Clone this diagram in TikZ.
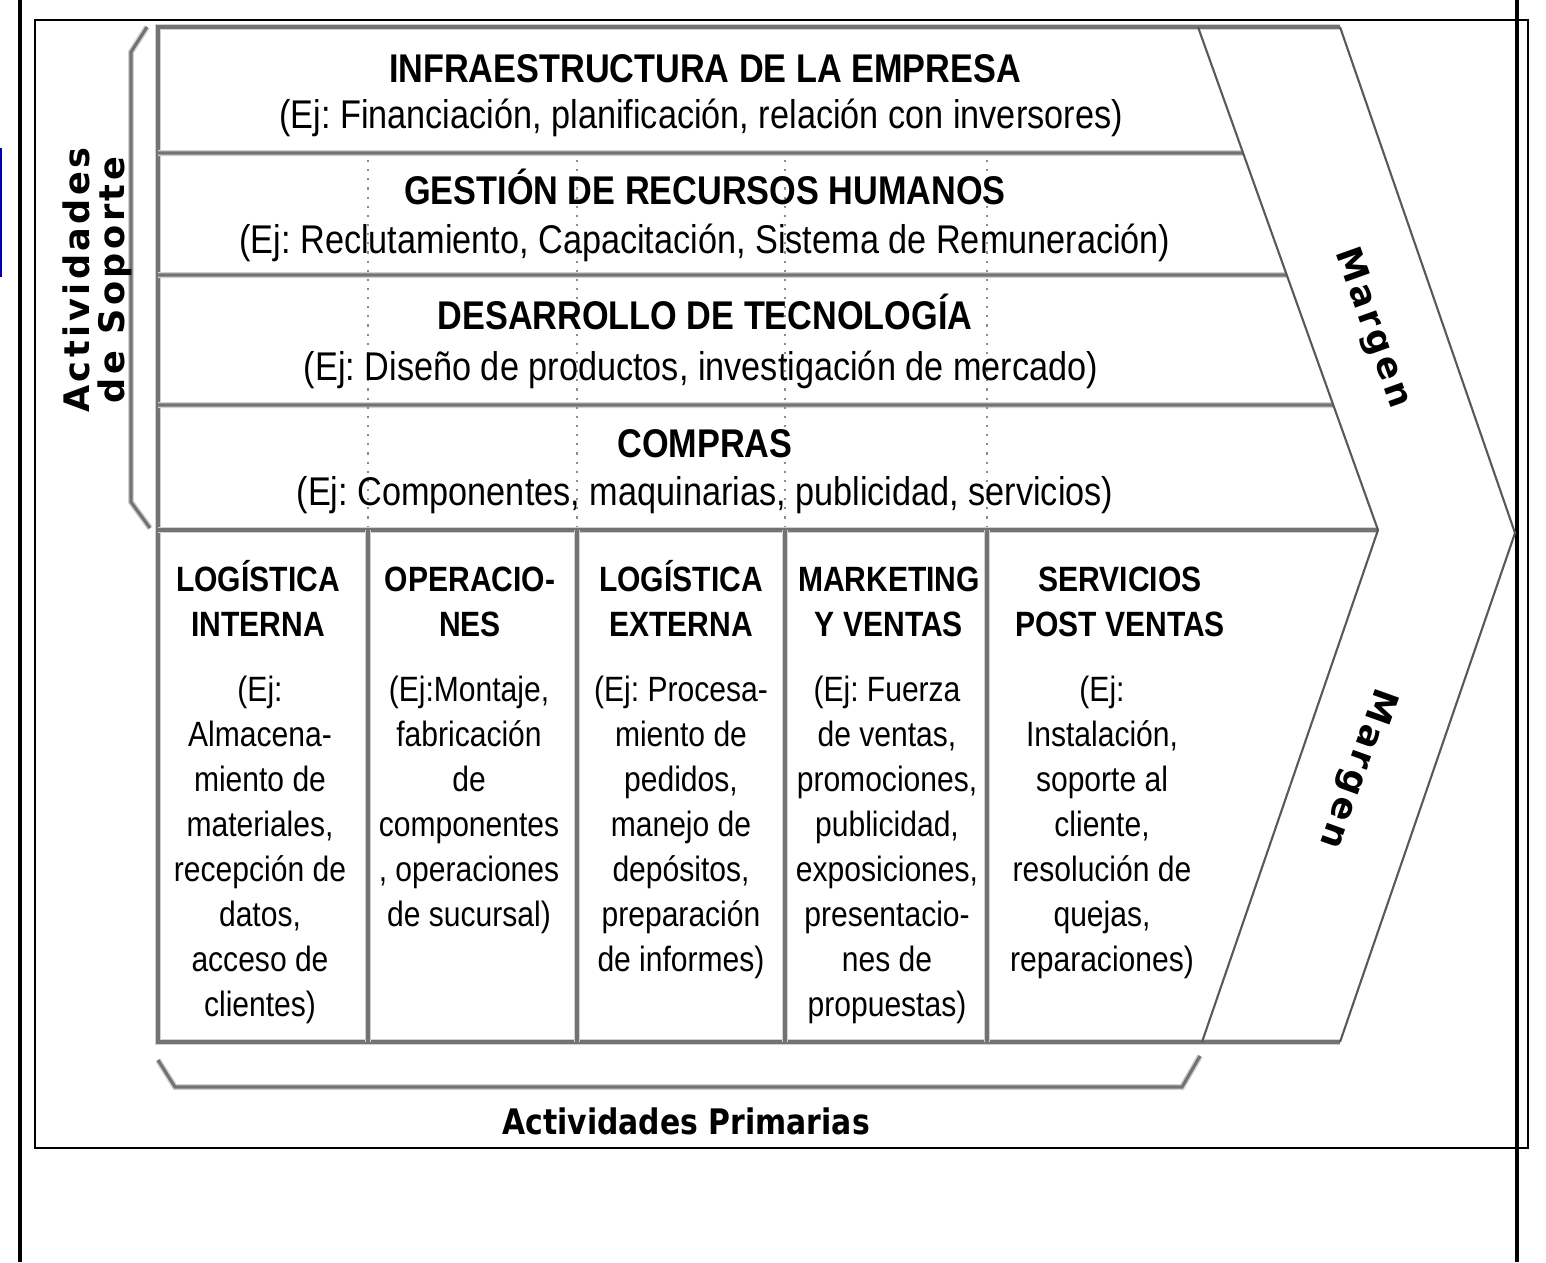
\documentclass[tikz,border=0pt]{standalone}
\usepackage{fontspec}
\setmainfont{Liberation Sans}[FakeStretch=0.855]
\newfontfamily\labelfont{DejaVu Sans}[LetterSpace=10]
\newfontfamily\basefont{DejaVu Sans}[FakeStretch=0.85]
\usetikzlibrary{calc}
\frenchspacing
\newcommand{\hstrut}{\rule{0pt}{10pt}}

\begin{document}
\begin{tikzpicture}[x=0.1mm,y=-0.1mm]
\tikzstyle{rule} = [draw=black!55, line width=0.9pt, preaction={draw=black!18, line width=1.7pt}]
\tikzstyle{slant} = [draw=black!65, line width=0.6pt]
\tikzstyle{guide} = [draw=black!45, dotted, line width=0.6pt]
\tikzstyle{title} = [font=\bfseries\fontsize{11.4}{13}\selectfont, anchor=base, inner sep=0pt]
\tikzstyle{ej} = [font=\fontsize{11.4}{13}\selectfont, anchor=base, inner sep=0pt]
\tikzstyle{head} = [font=\bfseries\fontsize{10}{12.6}\selectfont, align=center, anchor=north, inner sep=0pt]
\tikzstyle{body} = [font=\fontsize{10}{12.8}\selectfont, align=center, anchor=north, inner sep=0pt]
\tikzstyle{side} = [font=\labelfont\bfseries\fontsize{10}{10}\selectfont, align=center, inner sep=0pt]
\useasboundingbox (0,0) rectangle (1546,1262);
% page frame
\draw[line width=1.2pt] (20,0) -- (20,1262);
\draw[line width=1.2pt] (1517,0) -- (1517,1262);
\draw[line width=0.6pt] (35,20) rectangle (1528,1148);
\draw[draw=blue!70!black, line width=0.8pt] (1,148) -- (1,277);
% chevron
\coordinate (tl) at (158,27);
\coordinate (ti) at (1198,27);
\coordinate (to) at (1340,27);
\coordinate (tip) at (1378,530);
\coordinate (otip) at (1515,533);
\coordinate (bi) at (1202,1042);
\coordinate (bo) at (1340,1042);
\coordinate (bl) at (158,1042);
\draw[rule] (to) -- (tl) -- (bl) -- (bo);
\draw[rule] (158,530) -- (tip);
\foreach \y in {153,275,405}
  \draw[rule] (158,\y) -- ($(ti)!{(\y-27)/503}!(tip)$);
\foreach \x in {368,577,785,987} {
  \draw[guide] (\x,160) -- (\x,527);
  \draw[rule] (\x,530) -- (\x,1042);
}
\draw[slant] (ti) -- (tip) -- (bi);
\draw[slant] (to) -- (otip) -- (bo);
% brackets
\draw[rule] (147,27) -- (131,52) -- (131,502) -- (150,528);
\draw[rule] (158,1060) -- (175,1087) -- (1182,1087) -- (1200,1056);
% support activities
\node[title] (infra) at (705,82) {INFRAESTRUCTURA DE LA EMPRESA};
\node[ej] (infraEj) at (701,128) {(Ej: Financiación, planificación, relación con inversores)};
\node[title] (rrhh) at (705,204) {GESTIÓN DE RECURSOS HUMANOS};
\node[ej] (rrhhEj) at (705,253) {(Ej: Reclutamiento, Capacitación, Sistema de Remuneración)};
\node[title] (tec) at (705,329) {DESARROLLO DE TECNOLOGÍA};
\node[ej] (tecEj) at (701,380) {(Ej: Diseño de productos, investigación de mercado)};
\node[title] (compras) at (705,457) {COMPRAS};
\node[ej] (comprasEj) at (705,505) {(Ej: Componentes, maquinarias, publicidad, servicios)};
% primary activities
\node[head] (logIn) at (258,556) {\hstrut LOGÍSTICA\\INTERNA};
\node[body] (logInEj) at (260,669) {\strut(Ej:\\Almacena-\\miento de\\materiales,\\recepción de\\datos,\\acceso de\\clientes)};
\node[head] (oper) at (470,556) {\hstrut OPERACIO-\\NES};
\node[body] (operEj) at (469,669) {\strut(Ej:Montaje,\\fabricación\\de\\componentes\\, operaciones\\de sucursal)};
\node[head] (logOut) at (681,556) {\hstrut LOGÍSTICA\\EXTERNA};
\node[body] (logOutEj) at (681,669) {\strut(Ej: Procesa-\\miento de\\pedidos,\\manejo de\\depósitos,\\preparación\\de informes)};
\node[head] (mkt) at (889,556) {\hstrut MARKETING\\Y VENTAS};
\node[body] (mktEj) at (887,669) {\strut(Ej: Fuerza\\de ventas,\\promociones,\\publicidad,\\exposiciones,\\presentacio-\\nes de\\propuestas)};
\node[head] (serv) at (1120,556) {\hstrut SERVICIOS\\POST VENTAS};
\node[body] (servEj) at (1102,669) {\strut(Ej:\\Instalación,\\soporte al\\cliente,\\resolución de\\quejas,\\reparaciones)};
% side labels
\node[side, rotate=90] (soporte) at (97,280) {Actividades\\de Soporte};
\node[side, rotate=-70.3] (margenA) at (1372,328) {Margen};
\node[side, rotate=-109.7] (margenB) at (1357,768) {Margen};
\node[font=\basefont\bfseries\fontsize{10}{10}\selectfont, anchor=base, inner sep=0pt] (primarias) at (686,1134) {Actividades Primarias};
\end{tikzpicture}
\end{document}
